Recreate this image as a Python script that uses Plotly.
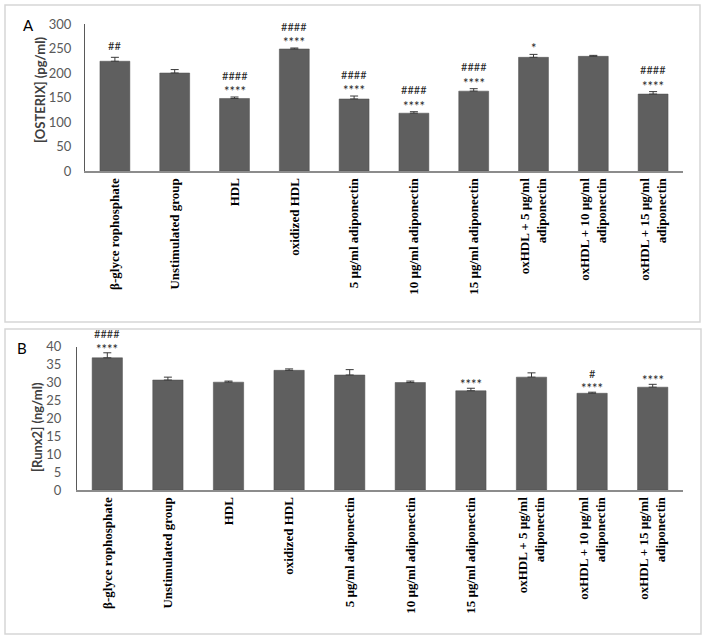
import plotly.graph_objects as go

W, H = 704, 643

categories = [
    "β-glyce rophosphate",
    "Unstimulated group",
    "HDL",
    "oxidized HDL",
    "5 µg/ml adiponectin",
    "10 µg/ml adiponectin",
    "15 µg/ml adiponectin",
    "oxHDL + 5 µg/ml<br>adiponectin",
    "oxHDL + 10 µg/ml<br>adiponectin",
    "oxHDL + 15 µg/ml<br>adiponectin",
]

osterix_values = [224, 200, 148, 249, 147, 118, 163, 232, 234, 157]
osterix_errors = [8, 7, 3, 2, 6, 3, 5, 6, 2, 5]
osterix_hash = ["##", "", "####", "####", "####", "####", "####", "", "", "####"]
osterix_star = ["", "", "****", "****", "****", "****", "****", "*", "", "****"]

runx2_values = [36.9, 30.7, 30.1, 33.4, 32.1, 30.0, 27.7, 31.5, 27.0, 28.7]
runx2_errors = [1.4, 0.8, 0.3, 0.4, 1.5, 0.4, 0.7, 1.2, 0.3, 0.8]
runx2_hash = ["####", "", "", "", "", "", "", "", "#", ""]
runx2_star = ["****", "", "", "", "", "", "****", "", "****", "****"]

osterix_ticks = [0, 50, 100, 150, 200, 250, 300]
runx2_ticks = [0, 5, 10, 15, 20, 25, 30, 35, 40]


def fx(p):
    return p / W


def fy(p):
    return 1 - p / H


BAR = "#5f5f5f"
fig = go.Figure()

fig.add_trace(go.Bar(
    x=categories, y=osterix_values, xaxis="x", yaxis="y",
    marker=dict(color=BAR, line=dict(color="#4d4d4d", width=0.5)),
    error_y=dict(type="data", array=osterix_errors, arrayminus=[0] * 10,
                 symmetric=False, color="#3a3a3a", thickness=1, width=4),
    showlegend=False, hoverinfo="skip",
))
fig.add_trace(go.Bar(
    x=categories, y=runx2_values, xaxis="x2", yaxis="y2",
    marker=dict(color=BAR, line=dict(color="#4d4d4d", width=0.5)),
    error_y=dict(type="data", array=runx2_errors, arrayminus=[0] * 10,
                 symmetric=False, color="#3a3a3a", thickness=1, width=4),
    showlegend=False, hoverinfo="skip",
))

xfont = dict(family="Liberation Serif", size=13, color="black", weight="bold")
yfont = dict(family="Lato", size=13, color="#595959")

fig.update_layout(
    width=W, height=H,
    margin=dict(l=0, r=0, t=0, b=0, autoexpand=False),
    paper_bgcolor="white", plot_bgcolor="white",
    bargap=0.5,
    xaxis=dict(domain=[fx(85), fx(683)], anchor="y", type="category",
               tickangle=-90, tickfont=xfont, showline=True, automargin=False,
               linecolor="#8c8c8c", linewidth=2, ticks="", showgrid=False),
    yaxis=dict(domain=[fy(171), fy(24)], anchor="x", range=[0, 300],
               tickvals=osterix_ticks, tickfont=yfont, showline=True,
               automargin=False,
               linecolor="#595959", linewidth=1, ticks="", showgrid=False,
               zeroline=False, ticklabelstandoff=10),
    xaxis2=dict(domain=[fx(77), fx(683)], anchor="y2", type="category",
                tickangle=-90, tickfont=xfont, showline=True, automargin=False,
                linecolor="#8c8c8c", linewidth=2, ticks="", showgrid=False),
    yaxis2=dict(domain=[fy(490), fy(346.7)], anchor="x2", range=[0, 40],
                tickvals=runx2_ticks, tickfont=yfont, showline=True,
                automargin=False,
                linecolor="#595959", linewidth=1, ticks="", showgrid=False,
                zeroline=False, ticklabelstandoff=12),
)

# panel frames
fig.add_shape(type="rect", xref="paper", yref="paper",
              x0=fx(5), x1=fx(700), y0=fy(322), y1=fy(5),
              line=dict(color="#d6d6d6", width=1.5), fillcolor="rgba(0,0,0,0)",
              layer="below")
fig.add_shape(type="rect", xref="paper", yref="paper",
              x0=fx(5), x1=fx(701), y0=fy(634), y1=fy(329),
              line=dict(color="#d6d6d6", width=1.5), fillcolor="rgba(0,0,0,0)",
              layer="below")

ann = []
# panel letters
ann.append(dict(text="A", x=fx(28), y=fy(25), xref="paper", yref="paper",
                xanchor="center", yanchor="middle",
                showarrow=False, font=dict(family="Lato", size=15, color="black")))
ann.append(dict(text="B", x=fx(22), y=fy(348), xref="paper", yref="paper",
                xanchor="center", yanchor="middle",
                showarrow=False, font=dict(family="Lato", size=15, color="black")))
# y titles
ann.append(dict(text="[OSTERIX] (pg/ml)", x=fx(40), y=fy(90), xref="paper",
                yref="paper", textangle=-90, showarrow=False,
                xanchor="center", yanchor="middle",
                font=dict(family="Lato", size=13, color="#404040", weight="bold")))
ann.append(dict(text="[Runx2] (ng/ml)", x=fx(37), y=fy(427), xref="paper",
                yref="paper", textangle=-90, showarrow=False,
                xanchor="center", yanchor="middle",
                font=dict(family="Lato", size=13, color="#404040", weight="bold")))

sigfont = dict(family="Lato", size=11, color="#262626")
starfont = dict(family="Lato", size=13, color="#262626")


def add_sig(xr, yr, vals, errs, hashes, stars, star_gap, hash_gap):
    for c, v, e, hs, st in zip(categories, vals, errs, hashes, stars):
        top = v + e
        shift = 0
        if st:
            shift = star_gap
            ann.append(dict(text=st, x=c, y=top, xref=xr, yref=yr,
                            yanchor="middle", yshift=shift - 3,
                            showarrow=False, font=starfont))
        if hs:
            shift = shift + hash_gap if st else 12
            ann.append(dict(text=hs, x=c, y=top, xref=xr, yref=yr,
                            yanchor="middle", yshift=shift,
                            showarrow=False, font=sigfont))


add_sig("x", "y", osterix_values, osterix_errors, osterix_hash, osterix_star, 9, 13)
add_sig("x2", "y2", runx2_values, runx2_errors, runx2_hash, runx2_star, 7, 12)

fig.update_layout(annotations=ann)
fig.write_html(
    "out.html",
    config={"displayModeBar": False, "staticPlot": True},
    post_script="document.body.style.margin='0';document.body.style.overflow='hidden';",
)
